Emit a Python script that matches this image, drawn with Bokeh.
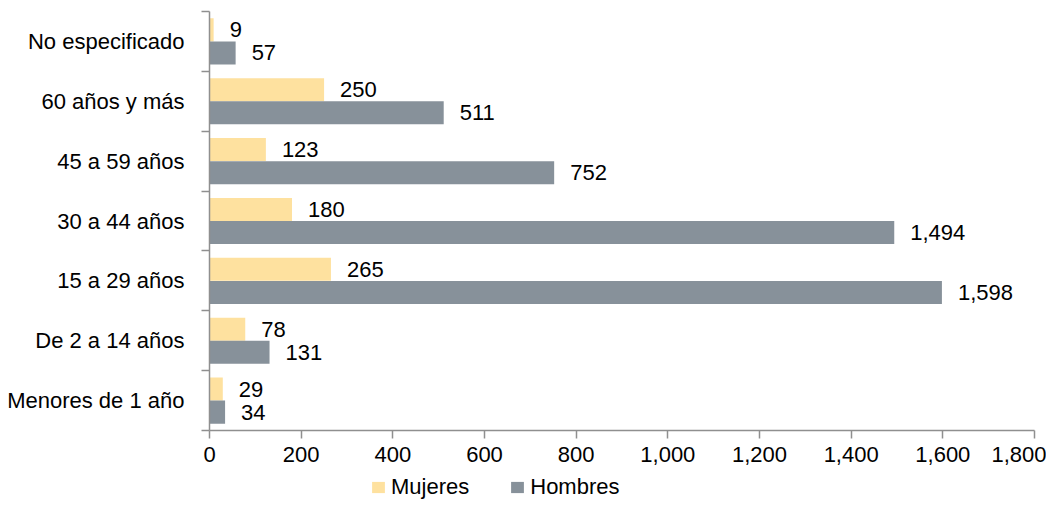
from bokeh.plotting import figure
from bokeh.layouts import column
from bokeh.models import (Range1d, FixedTicker, NumeralTickFormatter, Legend, LegendItem,
                          ColumnDataSource)
from bokeh.transform import dodge
from bokeh.embed import file_html
from bokeh.resources import INLINE
from bokeh.core.properties import value

# ---- data (bottom to top) ----
categories = ["Menores de 1 año", "De 2 a 14 años", "15 a 29 años", "30 a 44 años",
              "45 a 59 años", "60 años y más", "No especificado"]
mujeres = [29, 78, 265, 180, 123, 250, 9]
hombres = [34, 131, 1598, 1494, 752, 511, 57]
x_ticks = [0, 200, 400, 600, 800, 1000, 1200, 1400, 1600, 1800]
series_names = ["Mujeres", "Hombres"]

FONT = "Liberation Sans"
FS = "22px"
C_M = "#FEE19F"
C_H = "#87919A"
AXIS_C = "#8F8F8F"

ypos = [i + 0.5 for i in range(len(categories))]
src = ColumnDataSource(dict(
    y=ypos, cat=categories, m=mujeres, h=hombres,
    ml=[f"{v:,}" for v in mujeres], hl=[f"{v:,}" for v in hombres]))

p = figure(width=1046, height=474, output_backend="svg", toolbar_location=None,
           x_range=Range1d(0, 1800), y_range=Range1d(0, len(categories)),
           min_border_left=209, min_border_right=12, min_border_top=11, min_border_bottom=44)
p.outline_line_color = None
p.xgrid.visible = False
p.ygrid.visible = False

BH = 0.385
OFF = 0.193
p.hbar(y=dodge("y", OFF, range=p.y_range), right="m", left=0, height=BH,
       fill_color=C_M, line_color=None, source=src)
p.hbar(y=dodge("y", -OFF, range=p.y_range), right="h", left=0, height=BH,
       fill_color=C_H, line_color=None, source=src)

p.text(x="m", y=dodge("y", OFF, range=p.y_range), text="ml", x_offset=16,
       text_baseline="middle", text_align="left", text_font=value(FONT),
       text_font_size=FS, text_color="black", source=src)
p.text(x="h", y=dodge("y", -OFF, range=p.y_range), text="hl", x_offset=16,
       text_baseline="middle", text_align="left", text_font=value(FONT),
       text_font_size=FS, text_color="black", source=src)

# x axis
xa = p.xaxis[0]
xa.ticker = FixedTicker(ticks=x_ticks, minor_ticks=[])
xa.formatter = NumeralTickFormatter(format="0,0")
xa.axis_line_color = AXIS_C
xa.axis_line_width = 1.5
xa.major_tick_line_color = AXIS_C
xa.major_tick_line_width = 1.5
xa.major_tick_in = 0
xa.major_tick_out = 8
xa.minor_tick_line_color = None
xa.major_label_standoff = 8
xa.major_label_text_font = FONT
xa.major_label_text_font_size = FS
xa.major_label_text_color = "black"

# y axis
ya = p.yaxis[0]
ya.ticker = FixedTicker(ticks=ypos, minor_ticks=list(range(len(categories) + 1)))
ya.major_label_overrides = {y: c for y, c in zip(ypos, categories)}
ya.axis_line_color = AXIS_C
ya.axis_line_width = 1.5
ya.major_tick_line_color = None
ya.major_tick_in = 0
ya.major_tick_out = 0
ya.minor_tick_line_color = AXIS_C
ya.minor_tick_line_width = 1.5
ya.minor_tick_in = 0
ya.minor_tick_out = 8
ya.major_label_standoff = 17
ya.major_label_text_font = FONT
ya.major_label_text_font_size = FS
ya.major_label_text_color = "black"

# legend strip below the chart (zero-width proxy bars only feed the legend swatches)
pl = figure(width=1046, height=26, output_backend="svg", toolbar_location=None,
            x_range=Range1d(0, 1), y_range=Range1d(0, 1), min_border=0)
pl.outline_line_color = None
pl.xgrid.visible = False
pl.ygrid.visible = False
pl.xaxis.visible = False
pl.yaxis.visible = False
proxy = ColumnDataSource(dict(y=[0.5], right=[0]))
lm = pl.hbar(y="y", right="right", left=0, height=0.5, fill_color=C_M, line_color=None, source=proxy)
lh = pl.hbar(y="y", right="right", left=0, height=0.5, fill_color=C_H, line_color=None, source=proxy)
legend = Legend(items=[LegendItem(label=series_names[0], renderers=[lm]),
                       LegendItem(label=series_names[1], renderers=[lh])],
                orientation="horizontal", location=(161, 0),
                glyph_width=16, glyph_height=14, label_standoff=5, spacing=40,
                padding=0, margin=0, border_line_color=None, background_fill_alpha=0,
                label_text_font=FONT, label_text_font_size=FS, label_text_color="black")
pl.add_layout(legend, "center")

layout = column(p, pl, spacing=0)
open("out.html", "w").write(file_html(layout, INLINE))
